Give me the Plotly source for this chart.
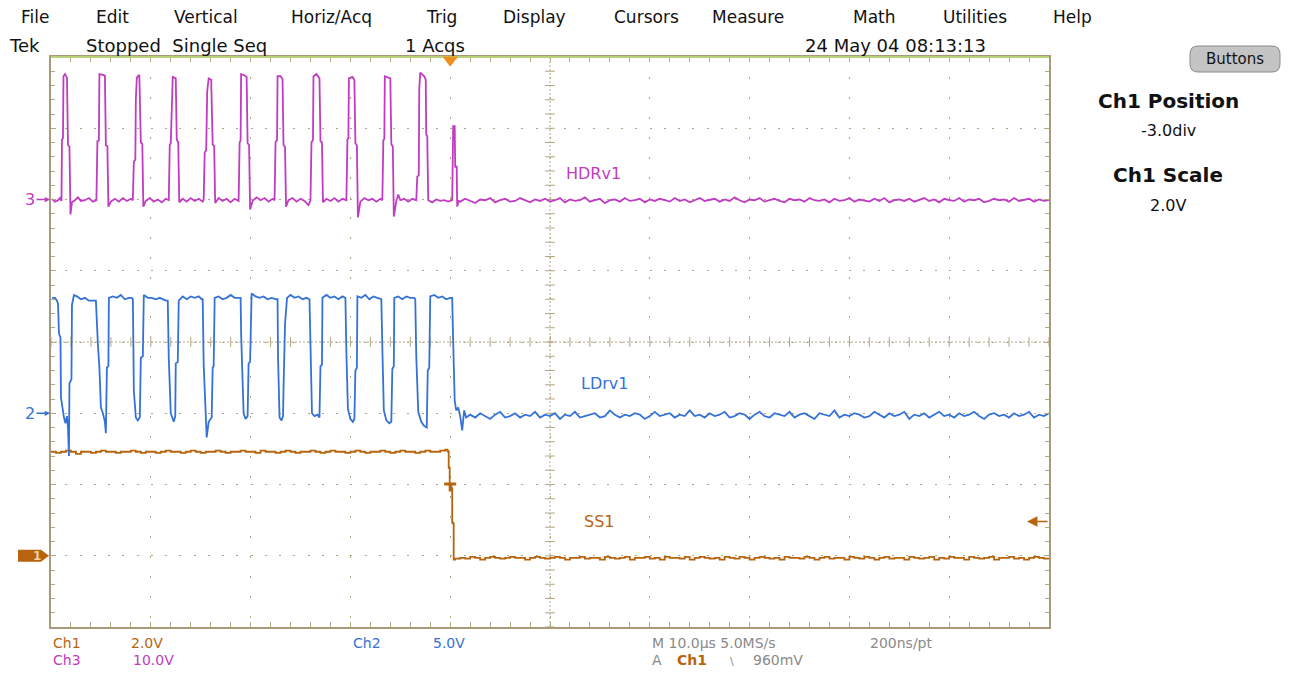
import numpy as np
import plotly.graph_objects as go

# ------------------------------------------------------------------
# DATA (time in microseconds relative to trigger, values in volts)
# ------------------------------------------------------------------
# Ch3  HDRv1  (10 V/div, position +2 div)
CH3_POINTS = [
    (-39.9, 0.1), (-39.6, -0.3), (-39.3, -0.1), (-39.1, 0.2), (-38.95, -0.2),
    (-38.9, 8.4), (-38.8, 8.6), (-38.75, 17.3), (-38.6, 17.6), (-38.4, 17.1), (-38.3, 7.7), (-38.15, 7.4),
    (-38.05, -2.1), (-37.9, -0.4), (-37.6, -0.1), (-37.3, 0.3), (-37.0, -0.2), (-36.6, -0.1), (-36.2, 0.2),
    (-35.8, -0.3), (-35.45, -0.1),
    (-35.35, 8.2), (-35.2, 8.3), (-35.15, 17.6), (-34.8, 17.5), (-34.6, 17.4), (-34.5, 7.6), (-34.35, 7.5),
    (-34.25, -1.0), (-34.0, -0.3), (-33.6, 0.1), (-33.2, -0.3), (-32.8, 0.2), (-32.4, -0.2), (-32.0, 0.1),
    (-31.8, -0.1),
    (-31.7, 5.3), (-31.55, 5.6), (-31.5, 14.0), (-31.4, 17.1), (-31.15, 17.5), (-31.0, 8.0), (-30.85, 7.8),
    (-30.75, -1.0), (-30.5, -0.2), (-30.1, 0.2), (-29.7, -0.3), (-29.3, 0.0), (-28.9, -0.4), (-28.5, 0.1),
    (-28.2, -0.1),
    (-28.1, 7.7), (-28.0, 7.9), (-27.9, 14.5), (-27.8, 17.2), (-27.5, 17.0), (-27.4, 8.4), (-27.25, 8.0),
    (-27.15, -0.4), (-26.8, 0.1), (-26.4, -0.3), (-26.0, 0.2), (-25.6, -0.2), (-25.2, 0.1), (-24.8, -0.3),
    (-24.7, 0.0),
    (-24.6, 6.6), (-24.45, 6.9), (-24.35, 15.2), (-24.2, 17.0), (-23.95, 16.8), (-23.8, 7.7), (-23.65, 7.5),
    (-23.55, -0.5), (-23.2, 0.2), (-22.8, -0.2), (-22.4, 0.1), (-22.0, -0.4), (-21.6, 0.1), (-21.2, -0.2),
    (-21.1, 8.0), (-21.0, 8.3), (-20.95, 17.6), (-20.6, 17.4), (-20.4, 17.2), (-20.3, 7.9), (-20.15, 7.6),
    (-20.05, -1.4), (-19.8, -0.2), (-19.4, 0.3), (-19.0, -0.1), (-18.6, 0.2), (-18.2, -0.3), (-17.8, 0.1),
    (-17.6, -0.1),
    (-17.5, 8.1), (-17.35, 8.3), (-17.3, 17.3), (-17.0, 17.3), (-16.8, 16.9), (-16.7, 7.6), (-16.55, 7.4),
    (-16.45, -1.0), (-16.2, -0.1), (-15.8, 0.2), (-15.4, -0.3), (-15.0, 0.1), (-14.6, -0.2), (-14.2, -0.8),
    (-14.0, -0.1),
    (-13.9, 8.0), (-13.75, 8.4), (-13.7, 17.3), (-13.4, 17.6), (-13.1, 17.0), (-13.0, 8.2), (-12.85, 8.0),
    (-12.75, -0.4), (-12.4, 0.1), (-12.0, -0.2), (-11.6, 0.2), (-11.2, -0.3), (-10.8, 0.1), (-10.4, -0.1),
    (-10.3, 8.4), (-10.2, 8.6), (-10.15, 17.0), (-9.8, 17.2), (-9.6, 16.8), (-9.5, 7.9), (-9.35, 7.6),
    (-9.25, -2.5), (-9.0, -0.3), (-8.6, 0.2), (-8.2, -0.1), (-7.8, 0.1), (-7.4, -0.3), (-7.0, 0.1),
    (-6.8, -0.1),
    (-6.7, 8.3), (-6.6, 8.5), (-6.55, 17.3), (-6.2, 17.1), (-6.0, 17.0), (-5.9, 7.8), (-5.75, 7.4),
    (-5.65, -2.4), (-5.4, -0.2), (-5.2, 0.7), (-5.0, -0.1), (-4.6, 0.1), (-4.2, -0.3), (-3.8, 0.1),
    (-3.4, -0.1),
    (-3.3, 3.2), (-3.15, 3.4), (-3.1, 15.5), (-3.0, 17.8), (-2.6, 17.3), (-2.45, 16.8), (-2.4, 9.1),
    (-2.3, 8.9), (-2.2, -0.1), (-1.8, -0.4), (-1.4, 0.0), (-1.0, -0.2), (-0.6, -0.1), (-0.2, -0.3),
    (0.2, -0.1),
    (0.3, 10.3), (0.45, 10.3), (0.5, 4.6), (0.65, 4.6), (0.7, -1.0), (0.85, -0.2),
]
CH3_TAIL_START = 1.0
CH3_TAIL_STEP = 0.5
CH3_TAIL = [
    -0.3, 0.1, -0.2, -0.5, 0.0, -0.1, 0.2, -0.4, -0.1, 0.1,
    -0.3, -0.2, 0.2, -0.1, -0.4, 0.0, -0.2, 0.1, -0.3, -0.1,
    0.2, -0.4, 0.0, -0.2, -0.1, 0.3, -0.3, -0.1, 0.1, -0.5,
    -0.1, 0.0, -0.3, 0.2, -0.2, -0.1, 0.1, -0.4, 0.0, -0.2,
    0.1, -0.1, -0.3, 0.2, -0.2, 0.0, -0.4, -0.1, 0.2, -0.2,
    -0.1, 0.1, -0.3, 0.0, -0.2, 0.3, -0.1, -0.4, 0.0, -0.1,
    0.2, -0.3, -0.1, 0.1, -0.2, -0.4, 0.1, -0.1, 0.0, -0.3,
    0.2, -0.1, -0.2, 0.0, -0.4, 0.1, -0.2, -0.1, 0.2, -0.3,
    0.0, -0.1, -0.3, 0.1, -0.2, 0.2, -0.4, -0.1, 0.0, -0.2,
    0.1, -0.3, -0.1, 0.2, -0.2, 0.0, -0.4, 0.1, -0.1, -0.2,
    0.2, -0.3, 0.0, -0.1, 0.1, -0.4, -0.2, 0.1, -0.1, 0.0,
    -0.3, 0.2, -0.2, -0.1, 0.1, -0.3, 0.0, -0.2, -0.1,
]

# Ch2  LDrv1  (5 V/div, position -1 div)
CH2_POINTS = [
    (-39.9, 8.1), (-39.6, 8.1), (-39.4, 7.9), (-39.3, 7.7), (-39.2, 5.6), (-39.05, 5.3), (-39.0, 1.1),
    (-38.8, 0.0), (-38.7, -0.3), (-38.55, -0.7), (-38.4, -0.2), (-38.3, -1.0), (-38.2, -3.0),
    (-38.15, 2.1), (-37.95, 2.4), (-37.9, 7.6), (-37.7, 8.3), (-37.4, 8.2), (-37.0, 8.0), (-36.6, 8.1),
    (-36.2, 7.9), (-35.7, 7.9),
    (-35.5, 7.9), (-35.3, 4.8), (-35.15, 3.2), (-35.0, 0.4), (-34.8, 0.0), (-34.6, -0.6), (-34.5, -1.4),
    (-34.4, 3.2), (-34.25, 3.3), (-34.2, 8.1), (-33.8, 8.2), (-33.4, 8.1), (-33.0, 8.3), (-32.6, 8.0),
    (-32.2, 8.1), (-31.9, 8.1),
    (-31.8, 8.0), (-31.75, 5.0), (-31.7, 1.6), (-31.5, -0.3), (-31.3, -0.5), (-31.1, -0.3), (-31.0, 3.9),
    (-30.8, 4.0), (-30.7, 8.3), (-30.3, 8.1), (-29.9, 8.1), (-29.5, 8.0), (-29.1, 8.1), (-28.5, 7.9),
    (-28.3, 7.9), (-28.2, 3.9), (-28.0, 0.0), (-27.7, -0.6), (-27.55, -0.2), (-27.5, 3.5), (-27.3, 3.6),
    (-27.2, 7.9), (-26.8, 8.2), (-26.4, 8.0), (-26.0, 8.2), (-25.6, 8.1), (-25.2, 8.2), (-24.9, 8.0),
    (-24.8, 8.0), (-24.7, 3.4), (-24.5, -0.3), (-24.4, -1.7), (-24.2, -0.6), (-23.9, -0.3), (-23.8, 3.2),
    (-23.7, 3.3), (-23.6, 8.1), (-23.2, 8.2), (-22.8, 8.0), (-22.4, 8.1), (-22.0, 8.3), (-21.6, 8.1),
    (-21.2, 8.1),
    (-21.0, 8.1), (-20.95, 5.6), (-20.7, 0.0), (-20.5, -0.4), (-20.3, -0.2), (-20.2, 3.5), (-20.05, 3.6),
    (-19.9, 8.4), (-19.5, 8.2), (-19.1, 8.1), (-18.7, 8.2), (-18.3, 8.0), (-17.9, 8.1), (-17.4, 8.0),
    (-17.3, 8.0), (-17.25, 3.9), (-17.1, -0.3), (-16.9, -0.5), (-16.75, -0.2), (-16.7, 1.8), (-16.55, 6.3),
    (-16.35, 8.1), (-16.0, 8.3), (-15.6, 8.1), (-15.2, 8.2), (-14.8, 8.0), (-14.4, 8.1),
    (-14.1, 8.0), (-14.0, 4.5), (-13.85, 0.0), (-13.6, -0.2), (-13.3, -0.1), (-13.1, -0.3), (-13.0, 3.3),
    (-12.85, 3.4), (-12.8, 8.1), (-12.4, 8.3), (-12.0, 8.1), (-11.6, 8.2), (-11.2, 8.0), (-10.8, 8.2),
    (-10.5, 8.1), (-10.4, 4.2), (-10.25, 0.3), (-10.0, -0.4), (-9.75, -0.6), (-9.6, -0.4), (-9.5, 3.0),
    (-9.35, 3.2), (-9.3, 8.2), (-8.9, 8.1), (-8.5, 8.3), (-8.1, 8.0), (-7.7, 8.2), (-7.3, 8.1),
    (-6.9, 8.0), (-6.8, 4.6), (-6.65, 0.2), (-6.4, -0.5), (-6.1, -0.7), (-5.9, -0.6), (-5.8, 3.1),
    (-5.65, 3.3), (-5.6, 8.1), (-5.2, 8.2), (-4.8, 8.0), (-4.4, 8.2), (-4.0, 8.1), (-3.6, 8.1),
    (-3.5, 8.0), (-3.4, 4.0), (-3.2, 0.1), (-2.9, -0.6), (-2.6, -0.9), (-2.35, -1.0), (-2.25, 3.0),
    (-2.1, 3.2), (-2.0, 8.2), (-1.6, 8.3), (-1.2, 8.1), (-0.8, 8.2), (-0.4, 8.0), (0.0, 8.1), (0.2, 8.1),
    (0.3, 5.0), (0.45, 0.9), (0.6, 0.2), (0.8, 0.4), (1.0, -0.2), (1.2, -1.2), (1.4, 0.2), (1.6, -0.3),
]
CH2_TAIL_START = 2.0
CH2_TAIL_STEP = 0.5
CH2_TAIL = [
    -0.1, -0.3, 0.0, -0.2, -0.4, -0.1, 0.1, -0.3, -0.2, 0.0,
    -0.3, -0.1, -0.2, 0.1, -0.3, -0.1, -0.2, 0.0, -0.4, -0.1,
    -0.2, 0.1, -0.3, -0.2, -0.1, 0.0, -0.3, -0.2, 0.2, -0.1,
    -0.3, -0.1, -0.2, 0.0, -0.1, -0.4, -0.2, 0.1, -0.2, -0.1,
    0.0, -0.3, -0.1, -0.2, 0.2, -0.2, -0.1, -0.3, 0.0, -0.2,
    -0.1, 0.1, -0.3, -0.2, 0.0, -0.1, -0.4, -0.1, 0.1, -0.2,
    -0.3, 0.0, -0.1, -0.2, 0.1, -0.3, -0.1, 0.0, -0.2, -0.4,
    0.0, -0.1, -0.2, 0.2, -0.3, -0.1, -0.2, 0.0, -0.1, -0.3,
    -0.2, 0.1, -0.1, -0.3, 0.0, -0.2, -0.1, 0.1, -0.4, -0.1,
    -0.2, 0.0, -0.3, -0.1, 0.1, -0.2, -0.1, -0.3, 0.0, -0.2,
    -0.1, 0.1, -0.2, -0.4, -0.1, 0.0, -0.2, -0.1, -0.3, 0.0,
    -0.2, -0.1, 0.1, -0.3, -0.1, -0.2, 0.0,
]

# Ch1  SS1  (2 V/div, position -3 div)
CH1_HEAD_START = -40.0
CH1_HEAD_STEP = 0.5
CH1_HEAD = [
    2.92, 2.89, 2.92, 2.95, 2.92, 2.86, 2.92, 2.92, 2.89, 2.92,
    2.95, 2.92, 2.92, 2.89, 2.92, 2.92, 2.95, 2.92, 2.89, 2.92,
    2.92, 2.89, 2.92, 2.95, 2.92, 2.92, 2.89, 2.92, 2.95, 2.92,
    2.89, 2.92, 2.92, 2.95, 2.92, 2.89, 2.92, 2.92, 2.95, 2.92,
    2.92, 2.89, 2.95, 2.92, 2.92, 2.89, 2.92, 2.95, 2.92, 2.89,
    2.92, 2.92, 2.95, 2.92, 2.89, 2.92, 2.95, 2.92, 2.92, 2.89,
    2.92, 2.95, 2.92, 2.89, 2.92, 2.92, 2.95, 2.92, 2.89, 2.92,
    2.95, 2.92, 2.92, 2.89, 2.92, 2.95, 2.92, 2.92, 2.95, 2.98,
]
CH1_EDGE = [(-0.3, 2.95), (-0.2, 2.92), (-0.15, 2.47), (-0.05, 2.0), (0.1, 1.9),
            (0.2, 0.93), (0.3, 0.9), (0.35, -0.11), (0.5, -0.08)]
CH1_TAIL_START = 1.0
CH1_TAIL_STEP = 0.5
CH1_TAIL = [
    -0.06, -0.08, -0.03, -0.06, -0.11, -0.06, -0.03, -0.06, -0.08, -0.06,
    -0.03, -0.06, -0.06, -0.11, -0.06, -0.03, -0.06, -0.08, -0.06, -0.03,
    -0.06, -0.11, -0.06, -0.06, -0.03, -0.08, -0.06, -0.06, -0.11, -0.03,
    -0.06, -0.08, -0.06, -0.03, -0.11, -0.06, -0.06, -0.03, -0.08, -0.06,
    -0.11, -0.03, -0.06, -0.06, -0.08, -0.03, -0.11, -0.06, -0.03, -0.06,
    -0.08, -0.06, -0.11, -0.03, -0.06, -0.08, -0.03, -0.06, -0.11, -0.06,
    -0.03, -0.06, -0.08, -0.06, -0.11, -0.03, -0.06, -0.06, -0.08, -0.03,
    -0.06, -0.11, -0.06, -0.03, -0.08, -0.06, -0.06, -0.11, -0.03, -0.06,
    -0.08, -0.03, -0.06, -0.11, -0.06, -0.03, -0.08, -0.06, -0.06, -0.11,
    -0.03, -0.06, -0.08, -0.06, -0.03, -0.11, -0.06, -0.08, -0.03, -0.06,
    -0.06, -0.11, -0.03, -0.06, -0.08, -0.06, -0.03, -0.11, -0.06, -0.06,
    -0.03, -0.08, -0.06, -0.11, -0.06, -0.03, -0.06, -0.08, -0.06,
]

# channel settings: volts/div and position (div)
CH_SCALE = {"Ch1": 2.0, "Ch2": 5.0, "Ch3": 10.0}
CH_POS = {"Ch1": -3.0, "Ch2": -1.0, "Ch3": 2.0}
TRIG_LEVEL = 0.96  # V on Ch1
TIME_RANGE = [-40, 60]  # µs, 10 µs/div
DIVS_V = 4

# ------------------------------------------------------------------
C1 = "#b8640f"
C2 = "#3472d6"
C3 = "#c03cc0"
GRID = "#b3a682"
FRAME = "#a89a7a"
GRAY = "#8a8a8a"
FONT = "DejaVu Sans"

W, H = 1289, 675
PL, PR, PT, PB = 51, 1049, 57, 627


def xp(px):
    return (px - PL) / (PR - PL)


def yp(py):
    return (PB - py) / (PB - PT)


def build(points, tail_start, tail_step, tail):
    t = [p[0] for p in points]
    v = [p[1] for p in points]
    tt = tail_start + tail_step * np.arange(len(tail))
    return t + list(tt), v + list(tail)


t3, v3 = build(CH3_POINTS, CH3_TAIL_START, CH3_TAIL_STEP, CH3_TAIL)
t2, v2 = build(CH2_POINTS, CH2_TAIL_START, CH2_TAIL_STEP, CH2_TAIL)
t1h = list(CH1_HEAD_START + CH1_HEAD_STEP * np.arange(len(CH1_HEAD)))
t1, v1 = build(CH1_EDGE, CH1_TAIL_START, CH1_TAIL_STEP, CH1_TAIL)
t1 = t1h + t1
v1 = list(CH1_HEAD) + v1


def vrange(ch):
    s, p = CH_SCALE[ch], CH_POS[ch]
    return [(-DIVS_V - p) * s, (DIVS_V - p) * s]


fig = go.Figure()

# center graticule tick marks
cx = TIME_RANGE[0] + (TIME_RANGE[1] - TIME_RANGE[0]) / 2
fig.add_trace(go.Scatter(
    x=np.arange(TIME_RANGE[0], TIME_RANGE[1] + 0.01, 2.0), y=[0] * 51, mode="markers",
    marker=dict(symbol="line-ns", size=7, line=dict(color=GRID, width=1)),
    hoverinfo="skip", showlegend=False, xaxis="x", yaxis="y"))
fig.add_trace(go.Scatter(
    x=[cx] * 41, y=np.arange(-4, 4.001, 0.2), mode="markers",
    marker=dict(symbol="line-ew", size=7, line=dict(color=GRID, width=1)),
    hoverinfo="skip", showlegend=False, xaxis="x", yaxis="y"))

fig.add_trace(go.Scatter(x=t1, y=v1, mode="lines", line=dict(color=C1, width=1.8, shape="hv"),
                         yaxis="y2", showlegend=False, name="SS1"))
fig.add_trace(go.Scatter(x=t2, y=v2, mode="lines", line=dict(color=C2, width=1.8),
                         yaxis="y3", showlegend=False, name="LDrv1"))
fig.add_trace(go.Scatter(x=t3, y=v3, mode="lines", line=dict(color=C3, width=1.8),
                         yaxis="y4", showlegend=False, name="HDRv1"))

axis_common = dict(showticklabels=False, zeroline=False, showline=True, linecolor=FRAME,
                   linewidth=2, mirror="allticks", ticks="inside", tickcolor=GRID, ticklen=5,
                   showgrid=True, gridcolor=GRID, gridwidth=1, fixedrange=True)

fig.update_layout(
    width=W, height=H,
    margin=dict(l=PL, r=W - PR, t=PT, b=H - PB),
    paper_bgcolor="white", plot_bgcolor="white",
    xaxis=dict(range=TIME_RANGE, dtick=10, tick0=TIME_RANGE[0], griddash="2px,17.96px",
               minor=dict(dtick=2, tick0=TIME_RANGE[0], ticks="inside", ticklen=4, tickcolor=GRID,
                          showgrid=False),
               **axis_common),
    yaxis=dict(range=[-DIVS_V, DIVS_V], dtick=1, tick0=0, griddash="2px,12.25px",
               minor=dict(dtick=0.2, ticks="inside", ticklen=4, tickcolor=GRID, showgrid=False),
               **axis_common),
    yaxis2=dict(range=vrange("Ch1"), overlaying="y", visible=False, fixedrange=True),
    yaxis3=dict(range=vrange("Ch2"), overlaying="y", visible=False, fixedrange=True),
    yaxis4=dict(range=vrange("Ch3"), overlaying="y", visible=False, fixedrange=True),
)

shapes = []
# center dotted lines
shapes.append(dict(type="line", xref="x", yref="y", x0=TIME_RANGE[0], x1=TIME_RANGE[1], y0=0, y1=0,
                   line=dict(color=GRID, width=1, dash="2px,2px"), layer="below"))
shapes.append(dict(type="line", xref="x", yref="y", x0=cx, x1=cx, y0=-4, y1=4,
                   line=dict(color=GRID, width=1, dash="2px,2px"), layer="below"))
# top border (green)
shapes.append(dict(type="line", xref="paper", yref="paper", x0=0, x1=1, y0=1, y1=1,
                   line=dict(color="#b9d27a", width=2)))
# trigger position marker (orange triangle at top)
shapes.append(dict(type="path", xref="x", yref="paper", xsizemode="pixel", ysizemode="pixel",
                   xanchor=0, yanchor=1, path="M-7,0 L7,0 L0,-9 Z",
                   fillcolor="#f0901c", line=dict(color="#f0901c", width=1)))
# trigger point marker on SS1
shapes.append(dict(type="path", xref="x", yref="y2", xsizemode="pixel", ysizemode="pixel",
                   xanchor=0, yanchor=2.0, path="M-6,2 L6,2 L6,-1 L1.5,-1 L1.5,-7 L-1.5,-7 L-1.5,-1 L-6,-1 Z",
                   fillcolor=C1, line=dict(color=C1, width=0)))
# Ch1 ground marker tag
shapes.append(dict(type="path", xref="paper", yref="y2", xsizemode="pixel", ysizemode="pixel",
                   xanchor=0, yanchor=0, path="M-33,6 L-10,6 L-2,0 L-10,-6 L-33,-6 Z",
                   fillcolor=C1, line=dict(color=C1, width=0)))
# Buttons button (rounded)
shapes.append(dict(type="path", xref="paper", yref="paper", xsizemode="pixel", ysizemode="pixel",
                   xanchor=xp(1190), yanchor=yp(72),
                   path="M8,0 L82,0 Q90,0 90,8 L90,18 Q90,26 82,26 L8,26 Q0,26 0,18 L0,8 Q0,0 8,0 Z",
                   fillcolor="#c4c4c4", line=dict(color="#8a8a8a", width=1)))
fig.update_layout(shapes=shapes)

ann = []


def txt(s, x, y, color="#111111", size=16, anchor="left", bold=False):
    ann.append(dict(text=s, x=xp(x), y=yp(y), xref="paper", yref="paper", showarrow=False,
                    xanchor=anchor, yanchor="middle", borderpad=0,
                    font=dict(family=FONT, size=size, color=color, weight="bold" if bold else "normal")))


for label, x in [("File", 20), ("Edit", 95), ("Vertical", 173), ("Horiz/Acq", 290), ("Trig", 425),
                 ("Display", 502), ("Cursors", 613), ("Measure", 711), ("Math", 852),
                 ("Utilities", 942), ("Help", 1052)]:
    txt(label, x, 17, size=17)

for label, x in [("Tek", 8), ("Stopped  Single Seq", 85), ("1 Acqs", 404), ("24 May 04 08:13:13", 804)]:
    txt(label, x, 46, size=18)

txt("Buttons", 1235, 59, size=15, anchor="center")
txt("Ch1 Position", 1168, 101, size=20, anchor="center", bold=True)
txt("-3.0div", 1168, 131, size=16, anchor="center")
txt("Ch1 Scale", 1168, 175, size=20, anchor="center", bold=True)
txt("2.0V", 1168, 205, size=16, anchor="center")

BOT = 14
txt("Ch1", 52, 643, C1, BOT)
txt("2.0V", 130, 643, C1, BOT)
txt("Ch3", 52, 660, C3, BOT)
txt("10.0V", 132, 660, C3, BOT)
txt("Ch2", 352, 643, C2, BOT)
txt("5.0V", 432, 643, C2, BOT)
txt("M 10.0µs 5.0MS/s", 651, 643, GRAY, BOT)
txt("200ns/pt", 869, 643, GRAY, BOT)
txt("A", 651, 660, GRAY, BOT)
txt("Ch1", 676, 660, C1, BOT, bold=True)
txt("\\", 729, 661, GRAY, 11)
txt("960mV", 752, 660, GRAY, BOT)

# trace labels
txt("HDRv1", 565, 173, C3, 16)
txt("LDrv1", 580, 383, C2, 16)
txt("SS1", 583, 521, C1, 16)

# channel ground markers
ann.append(dict(text="3", x=xp(PL - 1), y=0, xref="paper", yref="y4", ax=-20, ay=0,
                showarrow=True, arrowhead=2, arrowsize=0.7, arrowwidth=1.5, arrowcolor=C3,
                standoff=0, font=dict(family=FONT, size=16, color=C3)))
ann.append(dict(text="2", x=xp(PL - 1), y=0, xref="paper", yref="y3", ax=-20, ay=0,
                showarrow=True, arrowhead=2, arrowsize=0.7, arrowwidth=1.5, arrowcolor=C2,
                standoff=0, font=dict(family=FONT, size=16, color=C2)))
ann.append(dict(text="1", x=xp(31), y=0, xref="paper", yref="y2", showarrow=False,
                font=dict(family=FONT, size=12, color="#f3d2a8", weight="bold")))
# trigger level arrow on right
ann.append(dict(text="", x=57.8, y=TRIG_LEVEL, xref="x", yref="y2", ax=22, ay=0,
                showarrow=True, arrowhead=2, arrowsize=1.3, arrowwidth=1.6, arrowcolor=C1, standoff=0))

fig.update_layout(annotations=ann)
fig.write_html("out.html", config={"displayModeBar": False},
               post_script="document.body.style.margin='0';")
